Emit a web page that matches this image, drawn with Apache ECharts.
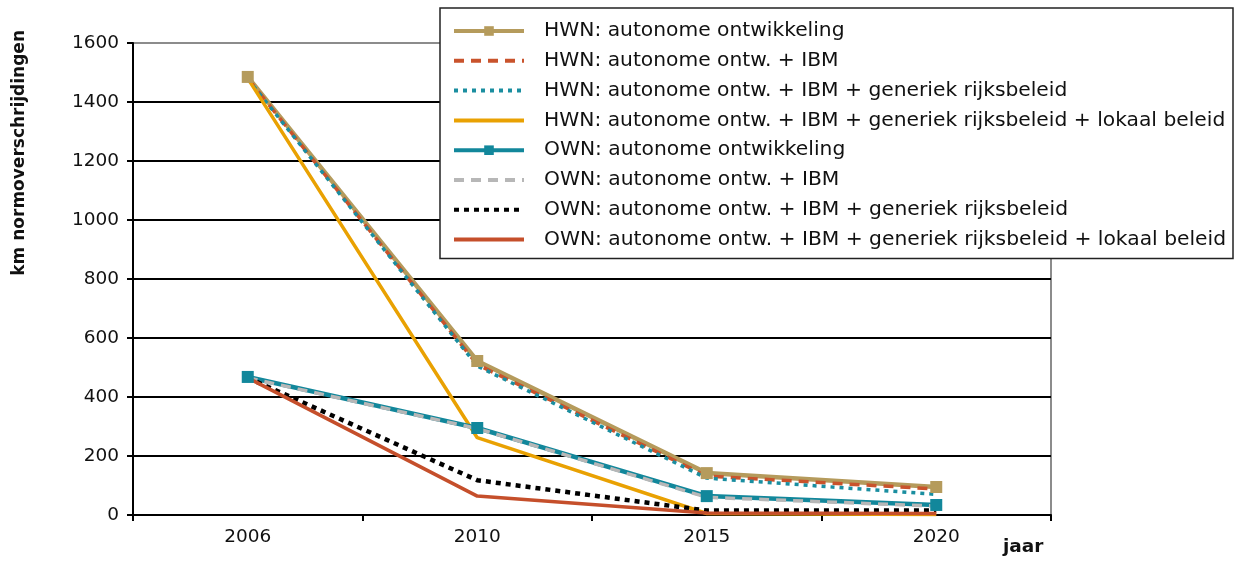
<!DOCTYPE html>
<html>
<head>
<meta charset="utf-8">
<script src="https://cdn.jsdelivr.net/npm/echarts@6/dist/echarts.min.js"></script>
<style>
  html, body { margin: 0; padding: 0; background: #fff; }
  #chart { width: 1240px; height: 562px; }
</style>
</head>
<body>
<div id="chart"></div>
<script>
// 年份（类目轴）
const years = ['2006', '2010', '2015', '2020']

// 各情景的 km 超标值
const hwnAutonoom = [1485, 522, 142, 95]
const hwnIbm = [1480, 510, 132, 88]
const hwnGeneriek = [1478, 505, 125, 70]
const hwnLokaal = [1480, 262, 5, 2]
const ownAutonoom = [468, 295, 64, 34]
const ownIbm = [465, 293, 60, 30]
const ownGeneriek = [465, 118, 15, 15]
const ownLokaal = [465, 64, 7, 5]

const FONT = 'DejaVu Sans'

const chart = echarts.init(document.getElementById('chart'), null, { renderer: 'canvas' })

/**
 * 生成折线系列
 */
function line(name, data, color, type, width, withSymbol) {
  return {
    name,
    type: 'line',
    data,
    symbol: withSymbol ? 'rect' : 'none',
    symbolSize: 12,
    showSymbol: withSymbol,
    lineStyle: { color, width, type, cap: 'butt' },
    itemStyle: { color },
    z: 3
  }
}

const seriesList = [
  line('HWN: autonome ontwikkeling', hwnAutonoom, '#b59b5c', 'solid', 4.5, true),
  line('HWN: autonome ontw. + IBM', hwnIbm, '#c9532c', [10, 7], 3.5, false),
  line('HWN: autonome ontw. + IBM + generiek rijksbeleid', hwnGeneriek, '#1a8ea0', [4, 5], 3.5, false),
  line('HWN: autonome ontw. + IBM + generiek rijksbeleid + lokaal beleid', hwnLokaal, '#e9a102', 'solid', 3.5, false),
  line('OWN: autonome ontwikkeling', ownAutonoom, '#12879b', 'solid', 4.5, true),
  line('OWN: autonome ontw. + IBM', ownIbm, '#b7b7b7', [10, 7], 3.5, false),
  line('OWN: autonome ontw. + IBM + generiek rijksbeleid', ownGeneriek, '#000', [5, 5], 4.5, false),
  line('OWN: autonome ontw. + IBM + generiek rijksbeleid + lokaal beleid', ownLokaal, '#c54f2b', 'solid', 3.5, false)
]

// 图例：无标记的系列隐藏图例中的圆点，线条加粗
const legendData = seriesList.map(s => {
  const item = { name: s.name, lineStyle: { width: 4 } }
  if (!s.showSymbol) item.itemStyle = { opacity: 0 }
  return item
})

const option = {
  backgroundColor: '#fff',
  animation: false,
  textStyle: { fontFamily: FONT },
  grid: {
    left: 133, right: 189, top: 43, bottom: 47,
    show: true,
    borderColor: '#8c8c8c',
    borderWidth: 2
  },
  legend: {
    orient: 'vertical',
    left: 440,
    top: 8,
    padding: [13, 7, 9, 12],
    itemWidth: 70,
    itemHeight: 12,
    itemGap: 9.8,
    backgroundColor: '#fff',
    borderColor: '#222',
    borderWidth: 1.5,
    borderRadius: 0,
    data: legendData,
    textStyle: {
      fontFamily: FONT,
      fontSize: 20.25,
      lineHeight: 20,
      color: '#111',
      padding: [0, 0, 0, 15]
    }
  },
  xAxis: {
    type: 'category',
    data: years,
    boundaryGap: true,
    axisLine: { lineStyle: { color: '#000', width: 2 } },
    axisTick: { show: true, length: 6, lineStyle: { color: '#000', width: 2 } },
    axisLabel: { color: '#111', fontSize: 18.5, margin: 13, fontFamily: FONT },
    splitLine: { show: false }
  },
  yAxis: {
    type: 'value',
    min: 0,
    max: 1600,
    interval: 200,
    axisLine: { show: true, lineStyle: { color: '#000', width: 2 } },
    axisTick: { show: true, length: 6, lineStyle: { color: '#000', width: 2 } },
    axisLabel: {
      color: '#111', fontSize: 18.5, margin: 14, fontFamily: FONT,
      formatter: v => String(v)
    },
    splitLine: {
      lineStyle: {
        width: 2,
        color: ['#000', '#000', '#000', '#000', '#000', '#000', '#000', '#000', '#8c8c8c']
      }
    }
  },
  graphic: [
    {
      type: 'text',
      left: 11,
      top: 30,
      rotation: Math.PI / 2,
      style: {
        text: 'km normoverschrijdingen',
        fontFamily: FONT,
        fontWeight: 'bold',
        fontSize: 17,
        fill: '#111'
      }
    },
    {
      type: 'text',
      left: 1003,
      top: 538,
      style: {
        text: 'jaar',
        fontFamily: FONT,
        fontWeight: 'bold',
        fontSize: 18.5,
        fill: '#111'
      }
    }
  ],
  series: seriesList
}

chart.setOption(option)
</script>
</body>
</html>
